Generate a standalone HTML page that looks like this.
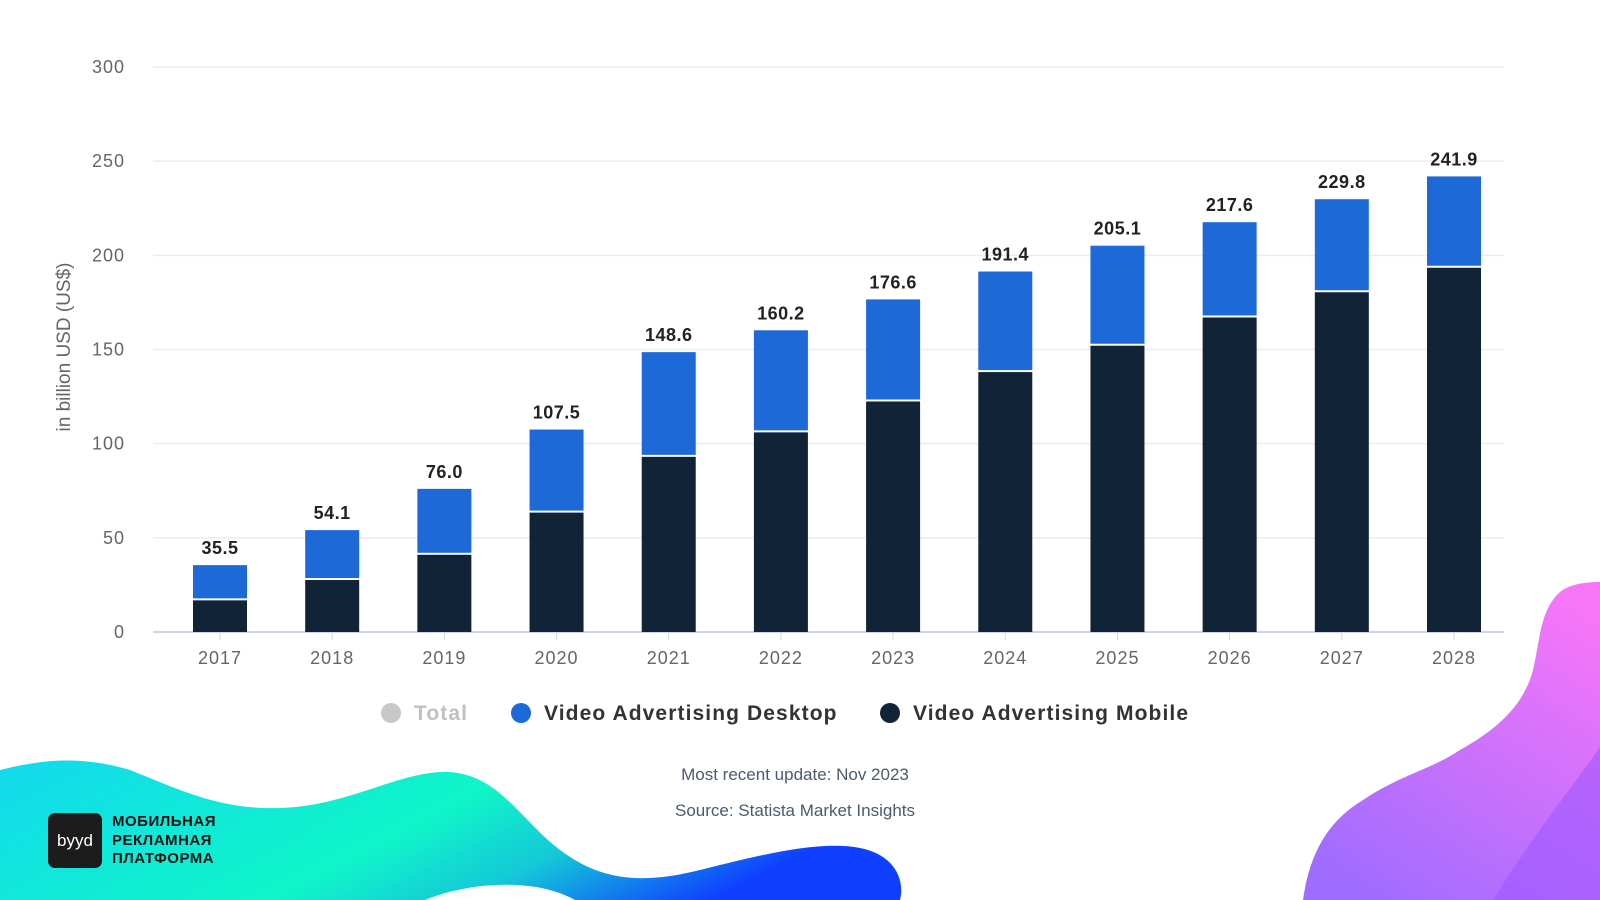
<!DOCTYPE html>
<html><head><meta charset="utf-8"><style>
html,body{margin:0;padding:0;background:#fff;}
body{width:1600px;height:900px;overflow:hidden;position:relative;font-family:"Liberation Sans","Noto Sans CJK SC",sans-serif;}
svg{position:absolute;left:0;top:0;}
</style></head><body>
<svg id="c" width="1600" height="900">
<defs>
<linearGradient id="teal" x1="0" y1="0" x2="1" y2="0.3">
<stop offset="0" stop-color="#12d9ee"/><stop offset="0.55" stop-color="#10f5c8"/><stop offset="0.75" stop-color="#14c8d8"/><stop offset="1" stop-color="#1040ff"/>
</linearGradient>
<linearGradient id="purp" x1="0.8" y1="0" x2="0.2" y2="1">
<stop offset="0" stop-color="#f776f8"/><stop offset="1" stop-color="#9e6cff"/>
</linearGradient>
</defs>
<path fill="url(#teal)" d="M0,770 C40,760 80,755 130,770 C180,790 220,810 280,808 C350,806 400,770 450,772 C500,776 520,820 560,850 C600,880 640,885 700,870 C760,855 820,840 860,848 C895,855 905,880 900,900 L0,900 Z"/>
<path fill="#fff" d="M425,900 C460,885 530,875 575,900 Z"/>
<path fill="url(#purp)" d="M1303,900 C1310,850 1330,820 1363,800 C1400,775 1430,770 1460,750 C1505,725 1525,700 1533,670 C1540,640 1540,610 1560,592 C1570,584 1585,582 1600,582 L1600,900 Z"/>
<path fill="#9a55ff" opacity="0.55" d="M1493,900 C1530,840 1570,790 1600,747 L1600,900 Z"/>
<g id="plot"></g>
</svg>
<div style="position:absolute;left:48px;top:813px;width:54px;height:55px;background:#1c1c1c;border-radius:7px;color:#fff;font-size:17px;text-align:center;line-height:55px;">byyd</div>
<div style="position:absolute;left:112px;top:813px;font-size:15px;font-weight:bold;color:#111;line-height:18.5px;letter-spacing:0.5px;">МОБИЛЬНАЯ<br>РЕКЛАМНАЯ<br>ПЛАТФОРМА</div>
<script>
const categories=["2017","2018","2019","2020","2021","2022","2023","2024","2025","2026","2027","2028"];
const totals=[35.5,54.1,76.0,107.5,148.6,160.2,176.6,191.4,205.1,217.6,229.8,241.9];
const mobile=[16.8,27.6,41.0,63.4,93.0,106.0,122.4,138.0,152.0,167.0,180.4,193.4];
const yTicks=[0,50,100,150,200,250,300];
const NS="http://www.w3.org/2000/svg";
const g=document.getElementById('plot');
const X0=153,X1=1504,Y0=632,Y300=67;
const y=v=>Y0-(v/300)*(Y0-Y300);
const step=(1454-220)/11;
const x=i=>220+i*step;
const BW=54;
function mk(t,a,txt){const e=document.createElementNS(NS,t);for(const k in a)e.setAttribute(k,a[k]);if(txt!==undefined)e.textContent=txt;g.appendChild(e);return e;}
yTicks.forEach(v=>{
 const l=mk('line',{x1:X0,x2:X1,y1:y(v),y2:y(v),stroke:v===0?'#ccd6eb':'#ececec','stroke-width':v===0?2:1.5});
 
 
 const t=mk('text',{x:125,y:y(v)+6,'text-anchor':'end','font-size':18,fill:'#666','letter-spacing':1},String(v));
 
 
});
categories.forEach((c,i)=>{
 const cx=x(i),m=mobile[i],d=totals[i]-mobile[i];
 const b1=mk('rect',{x:cx-BW/2,y:y(m),width:BW,height:Y0-y(m),fill:'#112336'});
 
 
 const b2=mk('rect',{x:cx-BW/2,y:y(m+d),width:BW,height:y(m)-y(m+d)-2,fill:'#1d69d8'});
 
 
 const lb=mk('text',{x:cx,y:y(totals[i])-11,'text-anchor':'middle','font-size':18,'font-weight':'bold',fill:'#222','letter-spacing':0.5},totals[i].toFixed(1));
 
 
 const tk=mk('line',{x1:cx,x2:cx,y1:Y0,y2:Y0+8,stroke:'#ccd6eb','stroke-width':1});
 
 
 const xl=mk('text',{x:cx,y:664,'text-anchor':'middle','font-size':18,fill:'#666','letter-spacing':1},c);
 
 
});
const yt=mk('text',{x:0,y:0,transform:'translate(70,347) rotate(-90)','text-anchor':'middle','font-size':19,fill:'#666'},'in billion USD (US$)');


const leg=[{n:'total',c:'#c8c8c8',tc:'#c0c0c0',l:'Total',cx:391},{n:'desktop',c:'#1d69d8',tc:'#333',l:'Video Advertising Desktop',cx:521},{n:'mobile',c:'#112336',tc:'#333',l:'Video Advertising Mobile',cx:890}];
leg.forEach(o=>{
 const ci=mk('circle',{cx:o.cx,cy:713,r:10,fill:o.c});
 
 
 const t=mk('text',{x:o.cx+23,y:720,'font-size':21,'font-weight':'bold',fill:o.tc,'letter-spacing':1.1},o.l);
 
 
});
const u=mk('text',{x:795,y:780,'text-anchor':'middle','font-size':17,fill:'#4a5a70'},'Most recent update: Nov 2023');


const s=mk('text',{x:795,y:816,'text-anchor':'middle','font-size':17,fill:'#4a5a70'},'Source: Statista Market Insights');


</script>
</body></html>
